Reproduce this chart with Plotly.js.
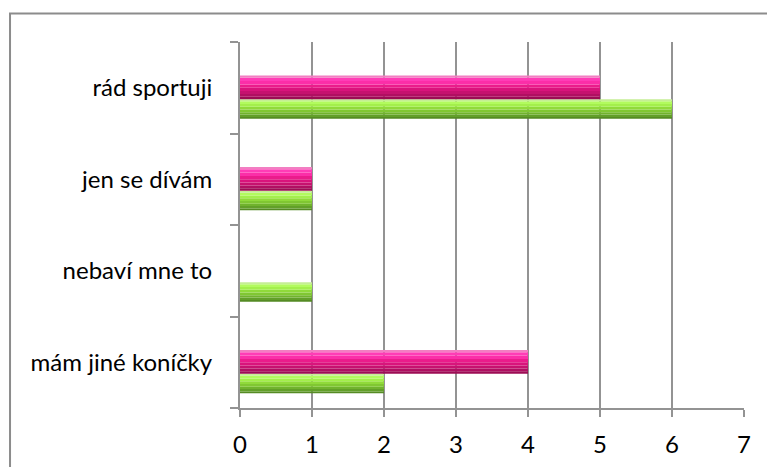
<!DOCTYPE html>
<html>
<head>
<meta charset="utf-8">
<script src="https://cdn.plot.ly/plotly-3.0.1.min.js"></script>
<style>
  html, body { margin: 0; padding: 0; background: #ffffff; }
  #chart { width: 767px; height: 467px; }
</style>
</head>
<body>
<div id="chart"></div>
<script>
// Categories listed bottom-to-top, as the value axis reads upward
var categories = ["mám jiné koníčky", "nebaví mne to", "jen se dívám", "rád sportuji"];
var pinkValues = [4, 0, 1, 5];
var greenValues = [2, 1, 1, 6];
var xTicks = [0, 1, 2, 3, 4, 5, 6, 7];

var FONT = "Lato, 'Open Sans', sans-serif";
var GRID = "#939393";

// Colour strips (fraction of bar thickness from the bottom edge) that
// fake the glossy vertical gradient of each bar.
var pinkShade = [
  [0.00, 0.10, "#9c0d55"],
  [0.10, 0.22, "#b01062"],
  [0.22, 0.34, "#c6126f"],
  [0.34, 0.48, "#d9147c"],
  [0.48, 0.62, "#ea1c8b"],
  [0.62, 0.76, "#fb2ea8"],
  [0.76, 0.90, "#ff3cb6"],
  [0.90, 1.00, "#f27ec2"]
];
var greenShade = [
  [0.00, 0.10, "#558b24"],
  [0.10, 0.22, "#629f29"],
  [0.22, 0.34, "#70b32d"],
  [0.34, 0.48, "#80c732"],
  [0.48, 0.62, "#90da3a"],
  [0.62, 0.76, "#a3ef4c"],
  [0.76, 0.90, "#b2fb5e"],
  [0.90, 1.00, "#c5ee94"]
];

function glossyBar(values, offset, width, shade) {
  return shade.map(function (s, i) {
    return {
      type: "bar", orientation: "h", y: categories, x: values,
      offset: offset + width * s[0], width: width * (s[1] - s[0]),
      hoverinfo: i === 0 ? "x" : "skip",
      marker: { color: s[2], line: { width: 0 } }
    };
  });
}

var traces = []
  .concat(glossyBar(greenValues, -0.34, 0.215, greenShade))
  .concat(glossyBar(pinkValues, -0.125, 0.26, pinkShade));

var layout = {
  width: 767,
  height: 467,
  margin: { l: 240, r: 23, t: 42, b: 59, pad: 0 },
  paper_bgcolor: "#ffffff",
  plot_bgcolor: "#ffffff",
  barmode: "overlay",
  showlegend: false,
  font: { family: FONT, size: 24, color: "#000000" },
  xaxis: {
    range: [0, 7],
    tickvals: xTicks,
    ticktext: xTicks.map(String),
    showgrid: true, gridcolor: GRID, gridwidth: 2,
    zeroline: false,
    showline: true, linecolor: GRID, linewidth: 2,
    ticks: "outside", ticklen: 7, tickcolor: GRID, tickwidth: 2,
    ticklabelstandoff: 7,
    tickfont: { family: FONT, size: 24, color: "#000000" },
    fixedrange: true
  },
  yaxis: {
    type: "category",
    categoryorder: "array",
    categoryarray: categories,
    range: [-0.5, 3.5],
    showgrid: false,
    zeroline: false,
    showline: true, linecolor: GRID, linewidth: 2,
    ticks: "outside", tickson: "boundaries", ticklen: 8, tickcolor: GRID, tickwidth: 2,
    ticklabelstandoff: 21,
    tickfont: { family: FONT, size: 24, color: "#000000" },
    fixedrange: true
  },
  shapes: [
    // chart frame (top and left edges)
    { type: "path", xref: "paper", yref: "paper",
      path: "M -0.4563,-0.3 L -0.4563,1.0779 L 1.1,1.0779",
      line: { color: "#8c8c8c", width: 2 } }
  ]
};

Plotly.newPlot("chart", traces, layout, { displayModeBar: false, staticPlot: true });
</script>
</body>
</html>
